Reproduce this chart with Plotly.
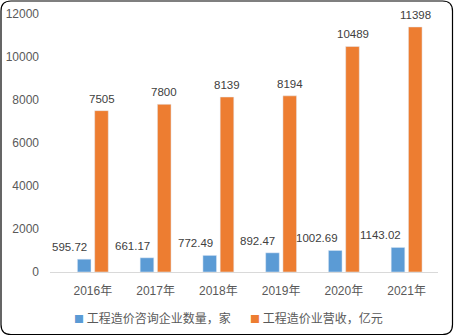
import plotly.graph_objects as go

years = ["2016年", "2017年", "2018年", "2019年", "2020年", "2021年"]
firms = [595.72, 661.17, 772.49, 892.47, 1002.69, 1143.02]
revenue = [7505, 7800, 8139, 8194, 10489, 11398]
name_firms = "工程造价咨询企业数量，家"
name_rev = "工程造价业营收，亿元"
y_ticks = [0, 2000, 4000, 6000, 8000, 10000, 12000]

BLUE = "#5B9BD5"
ORANGE = "#ED7D31"
FONT = "Liberation Sans, Noto Sans CJK SC, sans-serif"
CJK = "Noto Sans CJK SC, sans-serif"

W, H = 454, 336
L, R, T, B = 50, 16, 14, 64

fig = go.Figure()
fig.add_trace(go.Bar(x=years, y=firms, name=name_firms, marker_color=BLUE,
                     offsetgroup="a"))
fig.add_trace(go.Bar(x=years, y=revenue, name=name_rev, marker_color=ORANGE,
                     offsetgroup="b"))

pw, ph = W - L - R, H - T - B
def px(x):
    return (x - L) / pw
def py(y):
    return (H - B - y) / ph

ann = []
for i, v in enumerate(firms):
    ann.append(dict(x=i - 0.125, y=v, xref="x", yref="y", text=f"{v:.2f}",
                    showarrow=False, xanchor="right", yanchor="bottom",
                    xshift=4, yshift=4,
                    font=dict(family=FONT, size=11.5, color="#404040")))
for i, v in enumerate(revenue):
    ann.append(dict(x=i + 0.14, y=v, xref="x", yref="y", text=f"{v}",
                    showarrow=False, xanchor="center", yanchor="bottom",
                    yshift=4,
                    font=dict(family=FONT, size=11.5, color="#404040")))

# legend drawn as text entries
for lx, col, nm in [(72, BLUE, name_firms), (248, ORANGE, name_rev)]:
    ann.append(dict(x=px(lx), y=py(317), xref="paper", yref="paper",
                    xanchor="left", yanchor="middle", showarrow=False,
                    text=f"<span style='color:{col};font-size:10px'>■</span> {nm}",
                    font=dict(family=CJK, size=12, color="#595959")))

x0, x1, y0, y1, r = 1, 452.5, 1, 334.5, 10
path = (f"M {px(x0+r)},{py(y0)} L {px(x1-r)},{py(y0)} "
        f"Q {px(x1)},{py(y0)} {px(x1)},{py(y0+r)} "
        f"L {px(x1)},{py(y1-r)} Q {px(x1)},{py(y1)} {px(x1-r)},{py(y1)} "
        f"L {px(x0+r)},{py(y1)} Q {px(x0)},{py(y1)} {px(x0)},{py(y1-r)} "
        f"L {px(x0)},{py(y0+r)} Q {px(x0)},{py(y0)} {px(x0+r)},{py(y0)} Z")

fig.update_layout(
    width=W, height=H,
    margin=dict(l=L, r=R, t=T, b=B, autoexpand=False),
    paper_bgcolor="white", plot_bgcolor="white",
    barmode="group", bargap=0.45, bargroupgap=0.21,
    showlegend=False,
    annotations=ann,
    shapes=[dict(type="path", path=path, xref="paper", yref="paper",
                 line=dict(color="black", width=1.2), layer="above")],
    xaxis=dict(showgrid=False, showline=True, linecolor="#D9D9D9",
               linewidth=1, ticks="", ticklabelstandoff=8,
               tickfont=dict(family=FONT, size=12, color="#595959")),
    yaxis=dict(range=[0, 12000], tickvals=y_ticks,
               ticktext=[str(t) for t in y_ticks], showgrid=False,
               zeroline=False, showline=False, ticks="",
               ticklabelstandoff=10,
               tickfont=dict(family=FONT, size=12, color="#595959")),
)

fig.write_html("out.html")
